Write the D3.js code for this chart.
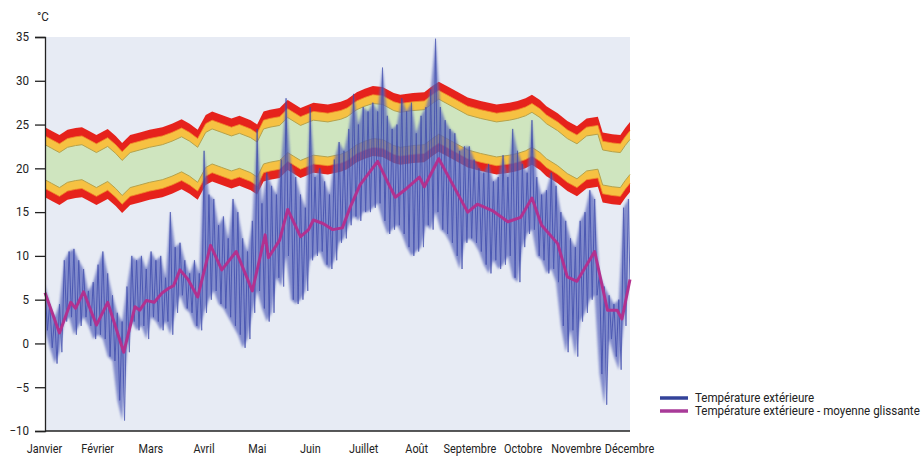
<!DOCTYPE html>
<html>
<head>
<meta charset="utf-8">
<script src="https://cdn.jsdelivr.net/npm/d3@7/dist/d3.min.js"></script>
<style>
  body { margin: 0; background: #fff; }
  svg text { font-family: "Roboto", sans-serif; font-size: 12px; fill: #222; }
</style>
</head>
<body>
<svg id="chart" width="924" height="458"></svg>
<script>
const months = ["Janvier", "Février", "Mars", "Avril", "Mai", "Juin", "Juillet", "Août", "Septembre", "Octobre", "Novembre", "Décembre"];
const yTicks = [35, 30, 25, 20, 15, 10, 5, 0, -5, -10];

// comfort band centre (°C), by day of year
const comfortDays = [0, 4, 9, 14, 19, 23, 28, 32, 39, 44, 48, 53, 59, 65, 73, 79, 85, 90, 95, 100, 104, 110, 116, 121, 128, 132, 136, 140, 146, 151, 159, 167, 176, 184, 188, 194, 199, 204, 210, 217, 221, 229, 236, 241, 245, 252, 263, 271, 281, 289, 294, 299, 303, 308, 312, 319, 325, 331, 337, 344, 347, 353, 358, 361, 364];
const comfortCentre = [20.7, 20.3, 19.8, 20.4, 20.6, 20.7, 20.2, 19.8, 20.5, 19.7, 18.9, 19.8, 20.1, 20.4, 20.7, 21.1, 21.6, 21.1, 20.4, 22.1, 22.5, 22.1, 21.7, 22.0, 21.5, 21.0, 22.5, 22.7, 22.9, 23.8, 22.9, 23.5, 23.3, 23.6, 23.9, 24.7, 25.1, 25.4, 25.3, 24.6, 24.4, 24.6, 24.7, 25.4, 25.9, 25.2, 24.1, 23.7, 23.3, 23.5, 23.7, 24.0, 24.4, 23.8, 23.1, 22.3, 21.4, 20.8, 21.7, 21.9, 20.1, 19.9, 19.8, 20.6, 21.3];
// half widths of the bands: green, yellow, red
const bandHalfWidths = [2, 3, 4];

// outdoor temperature, max and min every 3 days
const sampleStep = 3;
const tempMax = [6.7, 4.5, 3.0, 4.5, 9.5, 10.5, 10.8, 9.5, 8.5, 6.0, 7.0, 9.0, 10.5, 8.0, 5.5, 3.5, 2.5, 6.5, 10.0, 9.5,
  10.0, 8.5, 10.5, 9.5, 10.0, 7.5, 15.0, 11.0, 11.5, 9.5, 8.0, 9.5, 8.0, 22.0, 17.0, 16.5, 13.5, 14.5, 12.0, 16.5,
  15.0, 12.0, 10.5, 14.0, 24.5, 16.0, 19.5, 18.0, 17.0, 21.0, 28.0, 20.5, 19.0, 17.0, 15.5, 27.0, 19.0, 20.0, 18.5, 17.0,
  21.0, 23.0, 22.0, 24.5, 28.5, 25.0, 27.0, 26.5, 27.5, 26.5, 31.5, 26.0, 24.5, 25.0, 28.0, 26.5, 27.5, 24.0, 26.0, 27.0,
  29.0, 34.8, 27.0, 25.5, 24.5, 24.0, 22.0, 22.5, 22.5, 21.0, 20.0, 19.5, 20.5, 18.5, 19.0, 21.5, 19.0, 24.5, 22.0, 20.5,
  19.5, 25.5, 19.0, 17.0, 17.5, 19.5, 18.0, 15.0, 14.0, 12.0, 11.0, 14.0, 15.0, 17.5, 16.5, 8.0, 6.5, 5.5, 4.5, 5.0,
  15.5, 16.5];
const tempMin = [1.5, -0.5, -2.3, -1.0, 2.5, 3.0, 1.0, 2.0, 3.0, 2.0, 0.5, 1.0, 0.5, -1.5, -2.0, -6.5, -8.8, -1.0, 2.5, 1.5,
  2.0, 0.5, 3.0, 2.5, 1.5, 2.5, 1.0, 3.5, 5.5, 4.0, 3.5, 2.0, 1.5, 3.5, 5.0, 6.0, 4.5, 4.0, 3.0, 2.0,
  1.0, -0.5, 0.5, 3.5, 6.0, 4.0, 2.5, 3.5, 7.5, 6.5, 10.0, 5.0, 4.5, 5.0, 6.0, 9.5, 10.0, 10.5, 9.0, 8.5,
  9.5, 11.5, 12.0, 13.5, 14.5, 14.0, 15.0, 15.0, 15.5, 16.0, 14.0, 12.5, 13.0, 13.5, 12.5, 11.0, 10.0, 10.5, 11.0, 13.5,
  13.0, 15.0, 13.0, 12.5, 11.5, 10.0, 8.5, 11.5, 12.0, 11.5, 10.5, 9.0, 8.0, 9.5, 8.5, 9.0, 10.0, 7.5, 7.0, 11.0,
  12.5, 13.0, 10.0, 9.5, 8.0, 8.5, 7.0, 2.0, -1.0, 1.5, -1.5, 2.5, 3.5, 5.0, 5.5, -3.5, -7.0, 0.5, -1.5, -3.0,
  2.0, 6.5];

// rolling mean of outdoor temperature, by day of year
const meanDays = [0, 9, 16, 19, 24, 32, 39, 49, 56, 59, 63, 68, 73, 77, 80, 84, 89, 95, 103, 110, 119, 129, 137, 139, 146, 151, 159, 164, 167, 173, 179, 185, 190, 196, 207, 213, 218, 225, 233, 236, 245, 253, 263, 269, 279, 288, 296, 303, 309, 319, 325, 331, 342, 350, 356, 359, 364];
const meanTemp = [5.8, 1.2, 4.7, 4.0, 5.9, 2.1, 4.7, -1.0, 4.2, 3.8, 4.9, 4.7, 5.8, 6.3, 6.6, 8.4, 7.3, 5.3, 11.2, 8.4, 10.5, 6.0, 12.4, 9.8, 11.8, 15.3, 12.2, 13.0, 14.1, 13.7, 13.0, 13.2, 15.6, 18.1, 20.8, 18.5, 16.7, 17.7, 19.0, 17.9, 21.1, 18.4, 15.0, 15.9, 15.1, 13.9, 14.4, 16.6, 13.5, 11.4, 7.6, 7.1, 10.5, 3.8, 3.8, 2.8, 7.3];

const legendItems = [
  { label: "Température extérieure", color: "#33439a" },
  { label: "Température extérieure - moyenne glissante", color: "#a83a98" }
];

const svg = d3.select("#chart");
const plot = { left: 45, right: 630, top: 37, bottom: 431 };

const x = d3.scaleLinear().domain([0, 364]).range([plot.left, plot.right]);
const y = d3.scaleLinear().domain([-10, 35]).range([plot.bottom, plot.top]);
const xMonth = d3.scalePoint().domain(months).range([plot.left - 1, plot.right - 1]);

// plot background
svg.append("rect")
  .attr("x", plot.left).attr("y", plot.top)
  .attr("width", plot.right - plot.left).attr("height", plot.bottom - plot.top)
  .attr("fill", "#e7ebf4");

const defs = svg.append("defs");
defs.append("filter").attr("id", "soft")
  .append("feGaussianBlur").attr("stdDeviation", 0.7);
defs.append("filter").attr("id", "softer")
  .append("feGaussianBlur").attr("stdDeviation", 1.3);
defs.append("clipPath").attr("id", "clip")
  .append("rect").attr("x", plot.left).attr("y", plot.top - 2)
  .attr("width", plot.right - plot.left).attr("height", plot.bottom - plot.top + 2);

// comfort bands
const comfort = comfortDays.map((d, i) => ({ day: d, c: comfortCentre[i] }));
const bandColors = ["#cfe5bf", "#f6c142", "#e6231e"];
const bandG = svg.append("g").attr("filter", "url(#soft)");
[2, 1, 0].forEach(i => {
  const w = bandHalfWidths[i];
  bandG.append("path")
    .datum(comfort)
    .attr("fill", bandColors[i])
    .attr("d", d3.area()
      .x(d => x(d.day))
      .y0(d => y(d.c - w))
      .y1(d => y(d.c + w)));
});
[1, -1].forEach(s => {
  bandG.append("path")
    .datum(comfort)
    .attr("fill", "none")
    .attr("stroke", "#b5a24c")
    .attr("stroke-width", 1)
    .attr("d", d3.line().x(d => x(d.day)).y(d => y(d.c + s * bandHalfWidths[0])));
});
[1, -1].forEach(s => {
  bandG.append("path")
    .datum(comfort)
    .attr("fill", "none")
    .attr("stroke", "#f08a2a")
    .attr("stroke-width", 0.8)
    .attr("d", d3.line().x(d => x(d.day)).y(d => y(d.c + s * bandHalfWidths[1])));
});

// outdoor temperature: soft min-max spread + zigzag trace
const samples = tempMax.map((v, i) => ({ day: i * sampleStep, hi: v, lo: tempMin[i] }));
const zigzag = [];
samples.forEach(s => {
  zigzag.push({ day: s.day, t: s.hi });
  zigzag.push({ day: Math.min(s.day + sampleStep / 2, 364), t: s.lo });
});

const tempG = svg.append("g").attr("clip-path", "url(#clip)");
tempG.append("path")
  .datum(samples)
  .attr("fill", "#5c68bd")
  .attr("opacity", 0.72)
  .attr("filter", "url(#softer)")
  .attr("d", d3.area().x(d => x(d.day)).y0(d => y(d.lo)).y1(d => y(d.hi)));
tempG.append("path")
  .datum(zigzag)
  .attr("fill", "none")
  .attr("stroke", "#3a47aa")
  .attr("stroke-width", 1)
  .attr("stroke-linejoin", "round")
  .attr("opacity", 0.75)
  .attr("filter", "url(#soft)")
  .attr("d", d3.line().x(d => x(d.day)).y(d => y(d.t)));

// rolling mean
svg.append("path")
  .datum(meanDays.map((d, i) => ({ day: d, t: meanTemp[i] })))
  .attr("fill", "none")
  .attr("stroke", "#b2318f")
  .attr("stroke-width", 3)
  .attr("stroke-linejoin", "round")
  .attr("d", d3.line().x(d => x(d.day)).y(d => y(d.t)));

// axes
const yAxis = svg.append("g")
  .attr("transform", `translate(${plot.left},0)`)
  .call(d3.axisLeft(y).tickValues(yTicks).tickSize(10).tickPadding(6));
yAxis.select(".domain").attr("stroke", "#222").attr("stroke-width", 1.3);
yAxis.selectAll(".tick line").attr("stroke", "#222").attr("stroke-width", 1.3);
yAxis.selectAll("text").attr("font-size", 12).attr("fill", "#222");

const xAxis = svg.append("g")
  .attr("transform", `translate(0,${plot.bottom})`)
  .call(d3.axisBottom(xMonth).tickSize(0).tickPadding(13));
xAxis.select(".domain").attr("stroke", "#222").attr("stroke-width", 1.3)
  .attr("d", `M${plot.left},0H${plot.right}`);
xAxis.selectAll("text").attr("font-size", 12).attr("fill", "#222");

svg.append("text").attr("x", 37).attr("y", 21).text("°C");

// legend
const legend = svg.append("g").attr("transform", "translate(660,398)");
legendItems.forEach((item, i) => {
  const row = legend.append("g").attr("transform", `translate(0,${i * 13})`);
  row.append("line").attr("x1", 0).attr("x2", 28)
    .attr("stroke", item.color).attr("stroke-width", 3.5);
  row.append("text").attr("x", 35).attr("y", 4).text(item.label);
});

// the source uses a condensed face: squeeze labels horizontally to the source widths
const longest = legend.selectAll("text").nodes()[1];
const squeeze = 225 / longest.getComputedTextLength();
const novembre = xAxis.selectAll("text").nodes()[10];
const axisSqueeze = 50 / novembre.getComputedTextLength();
svg.selectAll("text").each(function () {
  const k = this.parentNode.parentNode === xAxis.node() ? axisSqueeze : squeeze;
  const t = d3.select(this);
  const tx = +t.attr("x") || 0;
  t.attr("x", 0).attr("transform", `translate(${tx},0) scale(${k},1)`);
});
</script>
</body>
</html>
